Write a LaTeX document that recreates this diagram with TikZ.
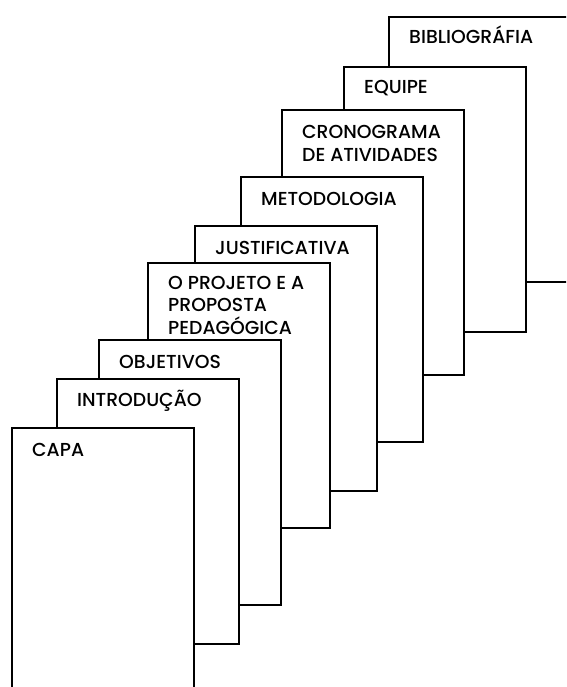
\documentclass[tikz,border=0pt]{standalone}
\usepackage{fontspec}
\setmainfont{Poppins}[UprightFont=* Medium]
\tikzset{
    folha/.style  ={draw=black, fill=white, line width=1.6pt, anchor=north west,
                    minimum width=182pt, minimum height=265pt, inner sep=0pt},
    rotulo/.style ={anchor=base west, align=left, inner sep=0pt,
                    font=\fontsize{18.8}{22.5}\selectfont},
}

\begin{document}
\begin{tikzpicture}[x=1pt, y=-1pt]
\useasboundingbox (0,0) rectangle (566,687);
\clip (0,0) rectangle (566,687);

% ===================== Folhas do fundo para a frente =====================
% (rotulos: ancora na linha de base da ultima linha)
\node[folha] (biblio) at (388,16)  {};
\node[rotulo] (t-biblio) at (409,44) {BIBLIOGRÁFIA};

\node[folha] (equipe) at (343,66)  {};
\node[rotulo] (t-equipe) at (364,94) {EQUIPE};

\node[folha] (crono) at (281,109) {};
\node[rotulo] (t-crono) at (302,161) {CRONOGRAMA\\DE ATIVIDADES};

\node[folha] (meto) at (240,176) {};
\node[rotulo] (t-meto) at (261,205) {METODOLOGIA};

\node[folha] (just) at (194,225) {};
\node[rotulo] (t-just) at (215,254) {JUSTIFICATIVA};

\node[folha] (proj) at (147,262) {};
\node[rotulo] (t-proj) at (168,334) {O PROJETO E A\\PROPOSTA\\PEDAGÓGICA};

\node[folha] (obj) at (98,339) {};
\node[rotulo] (t-obj) at (119,368) {OBJETIVOS};

\node[folha] (intro) at (56,378) {};
\node[rotulo] (t-intro) at (77,406) {INTRODUÇÃO};

\node[folha] (capa) at (11,427) {};
\node[rotulo] (t-capa) at (32,456) {CAPA};

\end{tikzpicture}
\end{document}
